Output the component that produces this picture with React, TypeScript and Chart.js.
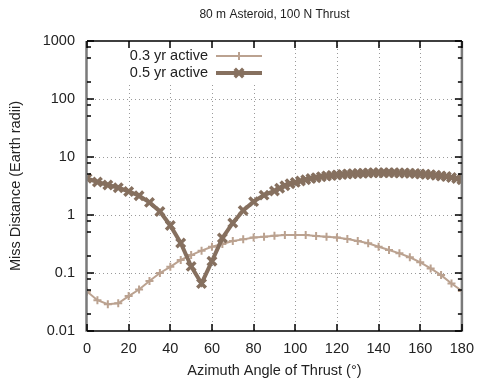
import React, { useEffect, useRef } from "react";
import { Chart, registerables } from "chart.js";

Chart.register(...registerables);

const chartTitle = "80 m Asteroid, 100 N Thrust";
const xTitle = "Azimuth Angle of Thrust (°)";
const yTitle = "Miss Distance (Earth radii)";
const seriesNames = ["0.3 yr active", "0.5 yr active"];

const xTicks = [0, 20, 40, 60, 80, 100, 120, 140, 160, 180];
const yTicks = [0.01, 0.1, 1, 10, 100, 1000];
const yTickLabels = ["0.01", "0.1", "1", "10", "100", "1000"];
const yMinorFactors = [2, 5, 8];

const angles03 = [
  0, 5, 10, 15, 20, 25, 30, 35, 40, 45, 50, 55, 60, 65, 70, 75, 80, 85, 90,
  95, 100, 105, 110, 115, 120, 125, 130, 135, 140, 145, 150, 155, 160, 165, 170, 175, 180,
];
const miss03 = [
  0.048, 0.034, 0.029, 0.030, 0.040, 0.052, 0.073, 0.100, 0.128, 0.168, 0.204, 0.243,
  0.284, 0.316, 0.356, 0.38, 0.41, 0.42, 0.44, 0.45, 0.45, 0.45, 0.435, 0.42, 0.41,
  0.386, 0.356, 0.325, 0.284, 0.25, 0.218, 0.187, 0.153, 0.12, 0.092, 0.066, 0.049,
];

const angles05 = [
  0, 5, 10, 15, 20, 25, 30, 35, 40, 45, 50, 55, 60, 65, 70, 75, 80, 85, 90,
  92.5, 95, 97.5, 100, 102.5, 105, 107.5, 110, 112.5, 115, 117.5, 120, 122.5, 125,
  127.5, 130, 132.5, 135, 137.5, 140, 142.5, 145, 147.5, 150, 152.5, 155, 157.5, 160,
  162.5, 165, 167.5, 170, 172.5, 175, 177.5, 180,
];
const miss05 = [
  4.3, 3.7, 3.3, 2.95, 2.55, 2.15, 1.65, 1.15, 0.66, 0.33, 0.13, 0.066, 0.16, 0.4,
  0.73, 1.2, 1.7, 2.2, 2.6,
  2.9, 3.2, 3.45, 3.65, 3.85, 4.05, 4.25, 4.4, 4.55, 4.7, 4.8, 4.9, 5.0, 5.1,
  5.15, 5.2, 5.25, 5.3, 5.35, 5.35, 5.35, 5.35, 5.35, 5.3, 5.3, 5.25, 5.2, 5.1,
  5.05, 4.95, 4.85, 4.7, 4.6, 4.45, 4.25, 4.05,
];

const color03 = "#bba290";
const color05 = "#86705f";
const FONT = "Liberation Sans";

const decorPlugin = {
  id: "gnuplotDecor",
  beforeDatasetsDraw(chart: any) {
    const { ctx, chartArea: a, scales } = chart;
    const xs = scales.x;
    const ys = scales.y;
    ctx.save();
    ctx.strokeStyle = "#9a9a9a";
    ctx.lineWidth = 1;
    ctx.setLineDash([1, 3]);
    xTicks.forEach((v) => {
      if (v <= 0 || v >= 180) return;
      const px = Math.round(xs.getPixelForValue(v)) + 0.5;
      ctx.beginPath();
      ctx.moveTo(px, a.top);
      ctx.lineTo(px, a.bottom);
      ctx.stroke();
    });
    yTicks.forEach((v) => {
      if (v <= 0.01 || v >= 1000) return;
      const py = Math.round(ys.getPixelForValue(v)) + 0.5;
      ctx.beginPath();
      ctx.moveTo(a.left, py);
      ctx.lineTo(a.right, py);
      ctx.stroke();
    });
    ctx.restore();
  },
  afterDatasetsDraw(chart: any) {
    const { ctx, chartArea: a, scales } = chart;
    const xs = scales.x;
    const ys = scales.y;
    ctx.save();
    ctx.setLineDash([]);

    // legend (opaque box)
    ctx.fillStyle = "#ffffff";
    ctx.fillRect(120, 44, 150, 38);
    const rows = [
      { y: 56, color: color03, lw: 2, style: "plus", r: 4, mlw: 2 },
      { y: 73, color: color05, lw: 4, style: "x", r: 6, mlw: 3.5 },
    ];
    ctx.font = `14.5px "${FONT}"`;
    ctx.textAlign = "right";
    ctx.textBaseline = "middle";
    rows.forEach((row, i) => {
      ctx.fillStyle = "#222";
      ctx.fillText(seriesNames[i], 208, row.y);
      ctx.strokeStyle = row.color;
      ctx.lineWidth = row.lw;
      ctx.beginPath();
      ctx.moveTo(216, row.y);
      ctx.lineTo(262, row.y);
      ctx.stroke();
      const cx = 239;
      ctx.lineWidth = row.mlw;
      ctx.beginPath();
      if (row.style === "plus") {
        ctx.moveTo(cx - row.r, row.y);
        ctx.lineTo(cx + row.r, row.y);
        ctx.moveTo(cx, row.y - row.r);
        ctx.lineTo(cx, row.y + row.r);
      } else {
        const d = row.r * 0.7071;
        ctx.moveTo(cx - d, row.y - d);
        ctx.lineTo(cx + d, row.y + d);
        ctx.moveTo(cx - d, row.y + d);
        ctx.lineTo(cx + d, row.y - d);
      }
      ctx.stroke();
    });

    // border
    ctx.strokeStyle = "#000";
    ctx.lineWidth = 1.5;
    ctx.beginPath();
    ctx.moveTo(a.left, a.top);
    ctx.lineTo(a.right, a.top);
    ctx.moveTo(a.left, a.bottom);
    ctx.lineTo(a.right, a.bottom);
    ctx.stroke();
    ctx.strokeStyle = "#7a7a7a";
    ctx.lineWidth = 2.5;
    ctx.beginPath();
    ctx.moveTo(a.left - 0.5, a.top);
    ctx.lineTo(a.left - 0.5, a.bottom + 0.75);
    ctx.moveTo(a.right, a.top);
    ctx.lineTo(a.right, a.bottom + 0.75);
    ctx.stroke();

    // ticks
    ctx.strokeStyle = "#000";
    ctx.lineWidth = 1.5;
    ctx.beginPath();
    xTicks.forEach((v) => {
      const px = Math.round(xs.getPixelForValue(v));
      ctx.moveTo(px, a.bottom);
      ctx.lineTo(px, a.bottom - 7);
      ctx.moveTo(px, a.top);
      ctx.lineTo(px, a.top + 7);
    });
    yTicks.forEach((v) => {
      const py = Math.round(ys.getPixelForValue(v));
      ctx.moveTo(a.left, py);
      ctx.lineTo(a.left + 7, py);
      ctx.moveTo(a.right, py);
      ctx.lineTo(a.right - 7, py);
    });
    yTicks.slice(0, -1).forEach((v) => {
      yMinorFactors.forEach((f) => {
        const py = Math.round(ys.getPixelForValue(v * f));
        ctx.moveTo(a.left, py);
        ctx.lineTo(a.left + 4, py);
        ctx.moveTo(a.right, py);
        ctx.lineTo(a.right - 4, py);
      });
    });
    ctx.stroke();

    // titles
    ctx.fillStyle = "#222";
    ctx.textAlign = "center";
    ctx.textBaseline = "middle";
    ctx.font = `12px "${FONT}"`;
    ctx.fillText(chartTitle, (a.left + a.right) / 2, 15);
    ctx.font = `14.5px "${FONT}"`;
    ctx.fillText(xTitle, (a.left + a.right) / 2, 371);
    ctx.save();
    ctx.translate(16, (a.top + a.bottom) / 2);
    ctx.rotate(-Math.PI / 2);
    ctx.fillText(yTitle, 0, 0);
    ctx.restore();

    ctx.restore();
  },
};

export default function App() {
  const canvasRef = useRef<HTMLCanvasElement | null>(null);

  useEffect(() => {
    document.body.style.margin = "0";
    const canvas = canvasRef.current;
    if (!canvas) return;
    const chart = new Chart(canvas, {
      type: "line",
      data: {
        datasets: [
          {
            label: seriesNames[0],
            data: angles03.map((x, i) => ({ x, y: miss03[i] })),
            borderColor: color03,
            backgroundColor: color03,
            borderWidth: 2,
            pointStyle: "cross",
            pointRadius: 4,
            pointBorderWidth: 2,
            pointBorderColor: color03,
            tension: 0,
            order: 2,
          },
          {
            label: seriesNames[1],
            data: angles05.map((x, i) => ({ x, y: miss05[i] })),
            borderColor: color05,
            backgroundColor: color05,
            borderWidth: 4,
            pointStyle: "crossRot",
            pointRadius: 6,
            pointBorderWidth: 3.5,
            pointBorderColor: color05,
            tension: 0,
            order: 1,
          },
        ],
      },
      options: {
        responsive: false,
        animation: false,
        devicePixelRatio: 1,
        layout: { padding: { left: 0, right: 13, top: 41, bottom: 0 } },
        plugins: {
          legend: { display: false },
          title: { display: false },
          tooltip: { enabled: false },
        },
        events: [],
        scales: {
          x: {
            type: "linear",
            min: 0,
            max: 180,
            afterBuildTicks: (scale: any) => {
              scale.ticks = xTicks.map((v) => ({ value: v }));
            },
            afterFit: (scale: any) => {
              scale.height = 48;
            },
            grid: { display: false, drawTicks: false },
            border: { display: false },
            ticks: {
              padding: 9,
              maxRotation: 0,
              autoSkip: false,
              color: "#222",
              font: { family: FONT, size: 14.5 },
              callback: (v: any) => String(v),
            },
          },
          y: {
            type: "logarithmic",
            min: 0.01,
            max: 1000,
            afterBuildTicks: (scale: any) => {
              scale.ticks = yTicks.map((v) => ({ value: v }));
            },
            afterFit: (scale: any) => {
              scale.width = 87;
            },
            grid: { display: false, drawTicks: false },
            border: { display: false },
            ticks: {
              padding: 12,
              autoSkip: false,
              color: "#222",
              font: { family: FONT, size: 14.5 },
              callback: (v: any) => {
                const i = yTicks.findIndex((t) => Math.abs(t - v) / t < 1e-6);
                return i >= 0 ? yTickLabels[i] : "";
              },
            },
          },
        },
      },
      plugins: [decorPlugin],
    } as any);
    return () => chart.destroy();
  }, []);

  return (
    <div style={{ position: "absolute", left: 0, top: 0, width: 483, height: 379 }}>
      <canvas ref={canvasRef} width={483} height={379} style={{ display: "block" }} />
    </div>
  );
}
